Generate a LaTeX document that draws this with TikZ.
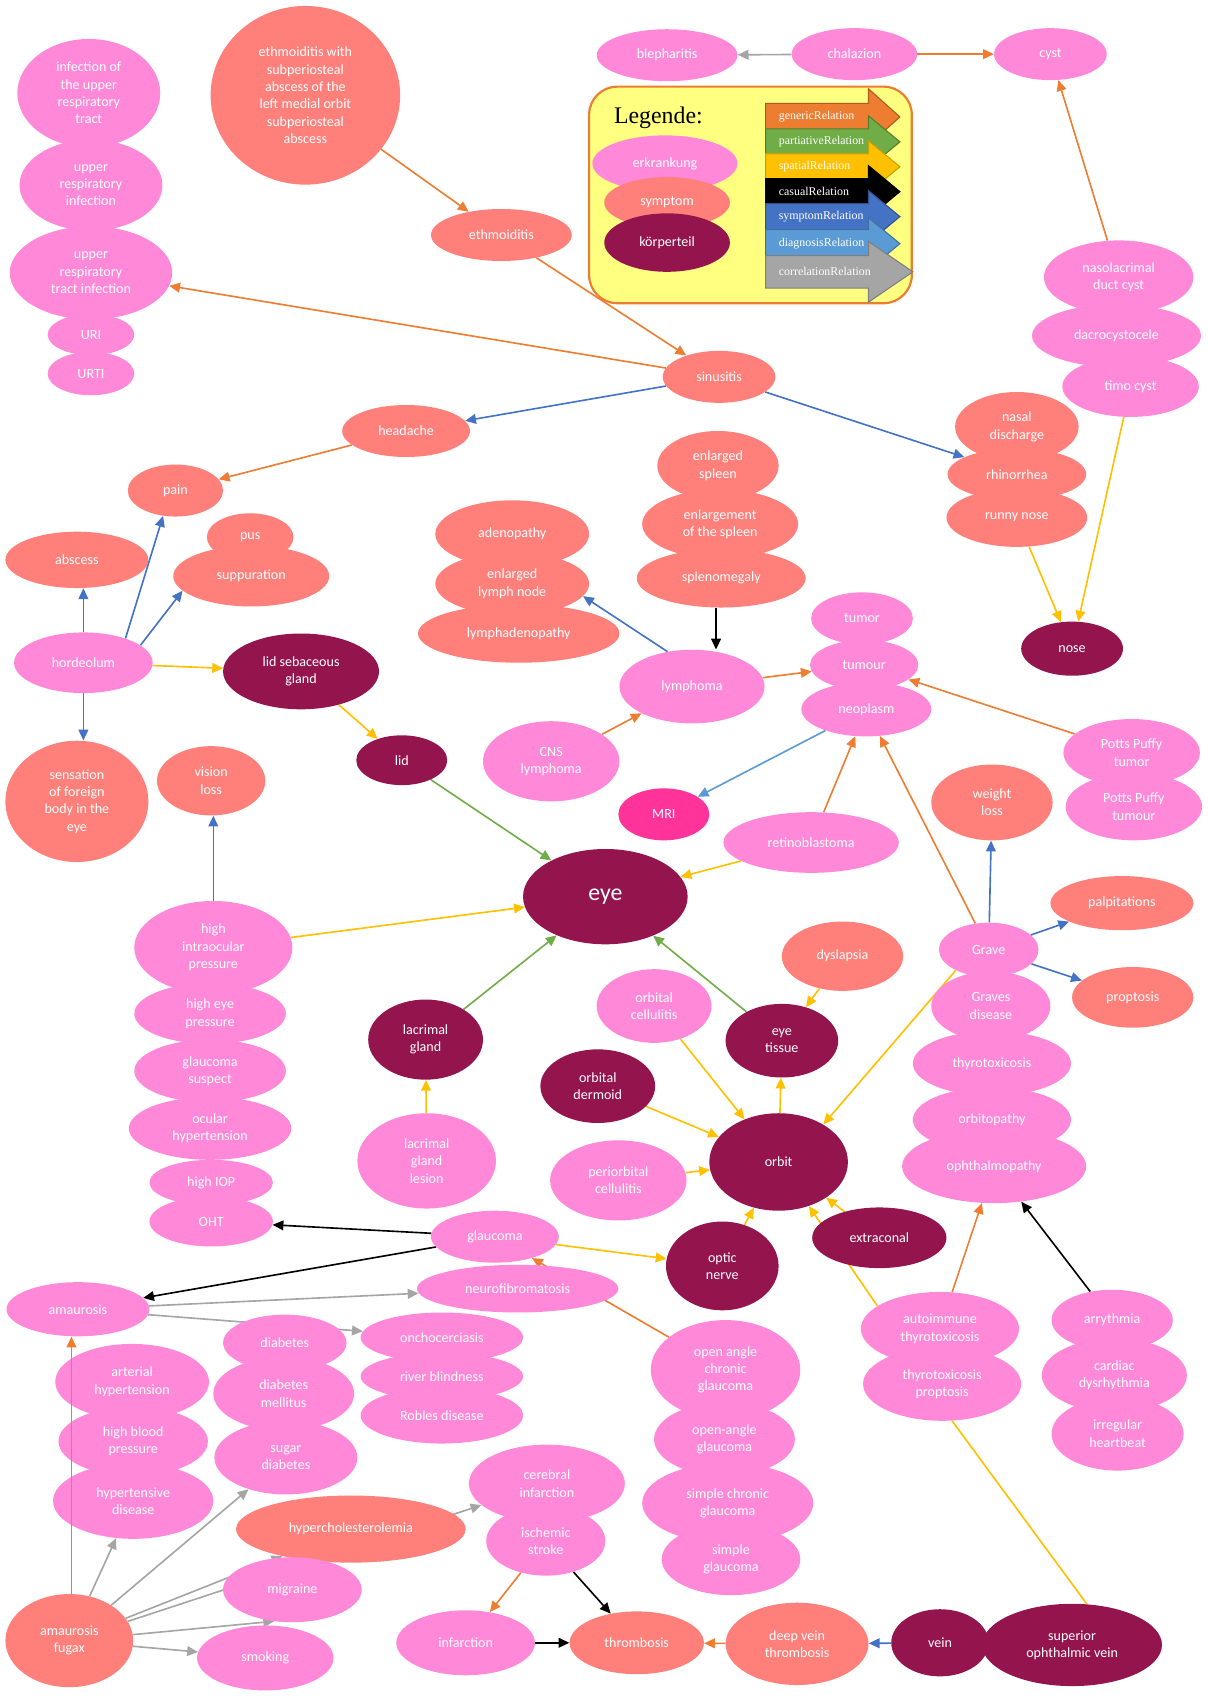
\documentclass[tikz,border=0pt]{standalone}
\usepackage{fontspec}
\setmainfont{Carlito}
\newfontfamily\legfont{Liberation Serif}
\usetikzlibrary{shapes.geometric,arrows.meta}
\pgfdeclarelayer{edges}
\pgfsetlayers{edges,main}

\definecolor{dzcol}{HTML}{FF89D8}
\definecolor{sycol}{HTML}{FF7F7A}
\definecolor{bpcol}{HTML}{94154D}
\definecolor{mricol}{HTML}{FF3399}
\definecolor{genc}{HTML}{ED7D31}
\definecolor{genl}{HTML}{AE5A21}
\definecolor{parc}{HTML}{70AD47}
\definecolor{parl}{HTML}{507E32}
\definecolor{spac}{HTML}{FFC000}
\definecolor{spal}{HTML}{C9A000}
\definecolor{casc}{HTML}{000000}
\definecolor{symc}{HTML}{4472C4}
\definecolor{syml}{HTML}{2F528F}
\definecolor{diac}{HTML}{5B9BD5}
\definecolor{dial}{HTML}{41719C}
\definecolor{corc}{HTML}{A5A5A5}
\definecolor{corl}{HTML}{7F7F7F}
\definecolor{legfill}{HTML}{FFFF80}

% block arrow of the legend: y, body half height, head half height, tip x, fill, outline, name, label
\newcommand\legarr[8]{%
  \path[fill=#5, draw=#6, line width=1pt]
    (707,#1-#2) -- (802,#1-#2) -- (802,#1-#3) -- (#4,#1) -- (802,#1+#3)
    -- (802,#1+#2) -- (707,#1+#2) -- cycle;
  \node[anchor=west, text=white, font=\legfont\fontsize{11}{13}\selectfont, inner sep=0pt]
    (#7) at (719,#1) {#8};}

\begin{document}
\begin{tikzpicture}[x=1pt,y=-1pt,
  ell/.style={ellipse, inner sep=0pt, text=white, align=center,
              font=\fontsize{13}{16}\selectfont},
  dz/.style={ell, fill=dzcol},
  sy/.style={ell, fill=sycol},
  bp/.style={ell, fill=bpcol},
  sz/.style 2 args={minimum width=#1pt, minimum height=#2pt},
  rel/.style={line width=1.5pt, -{Triangle[length=10pt,width=9pt]}},
  gen/.style={rel, draw=genc, fill=genc},
  par/.style={rel, draw=parc, fill=parc},
  spa/.style={rel, draw=spac, fill=spac},
  cas/.style={rel, draw=casc, fill=casc},
  sym/.style={rel, draw=symc, fill=symc},
  dia/.style={rel, draw=diac, fill=diac},
  cor/.style={rel, draw=corc, fill=corc},
]
\useasboundingbox (0,0) rectangle (1115,1568);

% ---------- legend ----------
\path[fill=legfill, draw=genc, line width=2pt, rounded corners=26pt] (544,80) rectangle (842,280);
\node[font=\legfont\fontsize{22}{26}\selectfont, inner sep=0pt] (legtitle) at (608,109) {Legende:};
\node[dz,sz={134}{52}] (legdz) at (614,151) {erkrankung};
\node[sy,sz={116}{47}] (legsy) at (616,187) {symptom};
\node[bp,sz={116}{54}] (legbp) at (616,224) {körperteil};
\legarr{108}{12.5}{26}{831}{genc}{genl}{leggen}{genericRelation}
\legarr{131}{12}{24}{831}{parc}{parl}{legpar}{partiativeRelation}
\legarr{154}{12}{24}{831}{spac}{spal}{legspa}{spatialRelation}
\legarr{177}{12}{24}{831}{casc}{casc}{legcas}{casualRelation}
\legarr{200}{12}{24}{831}{symc}{syml}{legsym}{symptomRelation}
\legarr{225}{13}{24}{831}{diac}{dial}{legdia}{diagnosisRelation}
\legarr{251}{15}{28}{843}{corc}{corl}{legcor}{correlationRelation}

% ---------- upper left ----------
\node[dz,sz={132}{100}] (inftract) at (82,86) {infection of\\the upper\\respiratory\\tract};
\node[dz,sz={132}{84}] (uri1) at (84,171) {upper\\respiratory\\infection};
\node[dz,sz={150}{86}] (urti1) at (84,252) {upper\\respiratory\\tract infection};
\node[dz,sz={80}{38}] (uri) at (84,309) {URI};
\node[dz,sz={80}{40}] (urti) at (84,345) {URTI};

\node[sy,sz={175}{165}] (ethabs) at (282,88) {ethmoiditis with\\subperiosteal\\abscess of the\\left medial orbit\\subperiosteal\\abscess};
\node[sy,sz={130}{48}] (ethm) at (463,217) {ethmoiditis};
\node[sy,sz={104}{48}] (sinus) at (664,348) {sinusitis};
\node[sy,sz={118}{48}] (head) at (375,398) {headache};
\node[sy,sz={88}{48}] (pain) at (162,453) {pain};
\node[sy,sz={80}{44}] (pus) at (231,496) {pus};
\node[sy,sz={144}{56}] (supp) at (232,532) {suppuration};
\node[sy,sz={132}{52}] (absc) at (71,517) {abscess};
\node[dz,sz={128}{56}] (hord) at (77,612) {hordeolum};
\node[sy,sz={132}{112}] (sens) at (71,740) {sensation\\of foreign\\body in the\\eye};
\node[bp,sz={144}{70}] (lsg) at (278,620) {lid sebaceous\\gland};
\node[bp,sz={84}{46}] (lid) at (371,702) {lid};
\node[sy,sz={100}{64}] (visl) at (195,721) {vision\\loss};

% ---------- lymph / tumour ----------
\node[sy,sz={142}{62}] (adeno) at (473,493) {adenopathy};
\node[sy,sz={142}{58}] (enlnode) at (473,539) {enlarged\\lymph node};
\node[sy,sz={186}{54}] (lymphad) at (479,585) {lymphadenopathy};
\node[sy,sz={112}{64}] (enlspl) at (663,430) {enlarged\\spleen};
\node[sy,sz={144}{64}] (enlmt) at (665,484) {enlargement\\of the spleen};
\node[sy,sz={156}{54}] (spleno) at (666,534) {splenomegaly};
\node[dz,sz={134}{68}] (lymph) at (639,634) {lymphoma};
\node[dz,sz={126}{74}] (cns) at (509,703) {CNS\\lymphoma};
\node[dz,sz={94}{48}] (tumor) at (796,571) {tumor};
\node[dz,sz={100}{46}] (tumour) at (798,614) {tumour};
\node[dz,sz={120}{50}] (neopl) at (800,655) {neoplasm};
\node[ell,fill=mricol,sz={84}{48}] (mri) at (613,752) {MRI};
\node[dz,sz={162}{56}] (retino) at (749,778) {retinoblastoma};
\node[bp,sz={152}{88},font=\fontsize{22}{26}\selectfont] (eye) at (559,828) {eye};

% ---------- upper right ----------
\node[dz,sz={130}{48}] (bleph) at (616,51) {blepharitis};
\node[dz,sz={116}{48}] (chal) at (789,50) {chalazion};
\node[dz,sz={104}{48}] (cyst) at (970,50) {cyst};
\node[dz,sz={138}{68}] (nldc) at (1033,256) {nasolacrimal\\duct cyst};
\node[dz,sz={156}{58}] (dacro) at (1031,310) {dacrocystocele};
\node[dz,sz={126}{56}] (timo) at (1044,357) {timo cyst};
\node[sy,sz={114}{64}] (nasd) at (939,394) {nasal\\discharge};
\node[sy,sz={128}{48}] (rhino) at (939,438) {rhinorrhea};
\node[sy,sz={130}{54}] (runny) at (939,478) {runny nose};
\node[bp,sz={94}{50}] (nose) at (990,599) {nose};
\node[dz,sz={126}{62}] (potts1) at (1045,695) {Potts Puffy\\tumor};
\node[dz,sz={126}{62}] (potts2) at (1047,745) {Potts Puffy\\tumour};
\node[sy,sz={112}{70}] (wloss) at (916,741) {weight\\loss};
\node[sy,sz={132}{50}] (palp) at (1036,834) {palpitations};
\node[sy,sz={112}{56}] (propt) at (1046,921) {proptosis};
\node[dz,sz={92}{50}] (grave) at (913,877) {Grave};
\node[dz,sz={110}{64}] (graves) at (915,929) {Graves\\disease};
\node[dz,sz={146}{60}] (thyro) at (916,982) {thyrotoxicosis};
\node[dz,sz={146}{60}] (orbito) at (916,1034) {orbitopathy};
\node[dz,sz={170}{68}] (ophth) at (918,1077) {ophthalmopathy};
\node[dz,sz={112}{56}] (arry) at (1027,1219) {arrythmia};
\node[dz,sz={134}{68}] (cardys) at (1029,1270) {cardiac\\dysrhythmia};
\node[dz,sz={122}{68}] (irreg) at (1032,1324) {irregular\\heartbeat};
\node[dz,sz={146}{68}] (autothy) at (868,1227) {autoimmune\\thyrotoxicosis};
\node[dz,sz={146}{68}] (thyprop) at (870,1278) {thyrotoxicosis\\proptosis};

% ---------- orbit region ----------
\node[sy,sz={112}{64}] (dysl) at (778,883) {dyslapsia};
\node[dz,sz={106}{68}] (orbcel) at (604,929) {orbital\\cellulitis};
\node[bp,sz={104}{68}] (eyet) at (722,961) {eye\\tissue};
\node[bp,sz={106}{68}] (orbder) at (552,1003) {orbital\\dermoid};
\node[bp,sz={128}{90}] (orbit) at (719,1073) {orbit};
\node[dz,sz={126}{74}] (periorb) at (571,1090) {periorbital\\cellulitis};
\node[bp,sz={106}{74}] (lacg) at (393,960) {lacrimal\\gland};
\node[dz,sz={128}{88}] (lacgl) at (394,1072) {lacrimal\\gland\\lesion};
\node[bp,sz={124}{56}] (extra) at (812,1143) {extraconal};
\node[bp,sz={104}{82}] (optic) at (667,1169) {optic\\nerve};
\node[dz,sz={118}{48}] (glauc) at (457,1142) {glaucoma};
\node[dz,sz={186}{44}] (neurof) at (478,1190) {neurofibromatosis};

% ---------- ocular pressure column ----------
\node[dz,sz={146}{86}] (hiop) at (197,875) {high\\intraocular\\pressure};
\node[dz,sz={140}{56}] (hep) at (194,936) {high eye\\pressure};
\node[dz,sz={140}{58}] (gsus) at (194,989) {glaucoma\\suspect};
\node[dz,sz={150}{58}] (ochyp) at (194,1042) {ocular\\hypertension};
\node[dz,sz={114}{42}] (hiopab) at (195,1092) {high IOP};
\node[dz,sz={114}{46}] (oht) at (195,1128) {OHT};

% ---------- lower part ----------
\node[dz,sz={132}{50}] (amau) at (72,1209) {amaurosis};
\node[dz,sz={114}{52}] (diab) at (263,1240) {diabetes};
\node[dz,sz={130}{68}] (diabm) at (262,1287) {diabetes\\mellitus};
\node[dz,sz={132}{68}] (sugar) at (264,1346) {sugar\\diabetes};
\node[dz,sz={150}{46}] (oncho) at (408,1235) {onchocerciasis};
\node[dz,sz={150}{44}] (riverb) at (408,1271) {river blindness};
\node[dz,sz={150}{52}] (robles) at (408,1307) {Robles disease};
\node[dz,sz={142}{70}] (arth) at (122,1276) {arterial\\hypertension};
\node[dz,sz={138}{64}] (hbp) at (123,1331) {high blood\\pressure};
\node[dz,sz={148}{70}] (hypd) at (123,1386) {hypertensive\\disease};
\node[dz,sz={144}{72}] (cereb) at (505,1370) {cerebral\\infarction};
\node[dz,sz={110}{64}] (isch) at (504,1423) {ischemic\\stroke};
\node[sy,sz={212}{62}] (hchol) at (324,1412) {hypercholesterolemia};
\node[dz,sz={128}{60}] (migr) at (270,1468) {migraine};
\node[dz,sz={126}{60}] (smok) at (245,1531) {smoking};
\node[sy,sz={118}{86}] (fugax) at (64,1515) {amaurosis\\fugax};
\node[dz,sz={128}{60}] (infarc) at (430,1517) {infarction};
\node[sy,sz={124}{58}] (thromb) at (588,1517) {thrombosis};
\node[sy,sz={132}{76}] (dvt) at (736,1518) {deep vein\\thrombosis};
\node[bp,sz={90}{62}] (vein) at (868,1517) {vein};
\node[bp,sz={166}{76}] (sov) at (990,1519) {superior\\ophthalmic vein};
\node[dz,sz={138}{92}] (oacg) at (670,1265) {open angle\\chronic\\glaucoma};
\node[dz,sz={130}{68}] (oag) at (669,1329) {open-angle\\glaucoma};
\node[dz,sz={158}{74}] (scg) at (672,1388) {simple chronic\\glaucoma};
\node[dz,sz={128}{66}] (sg) at (675,1440) {simple\\glaucoma};

% ---------- connectors (behind the ellipses) ----------
\begin{pgfonlayer}{edges}
% generic
\draw[gen] (ethabs) -- (ethm);
\draw[gen] (ethm) -- (sinus);
\draw[gen] (sinus) -- (urti1);
\draw[gen] (head) -- (pain);
\draw[gen] (chal) -- (cyst);
\draw[gen] (nldc) -- (cyst);
\draw[gen] (lymph) -- (tumour);
\draw[gen] (cns) -- (lymph);
\draw[gen] (retino) -- (neopl);
\draw[gen] (potts1) -- (tumour);
\draw[gen] (grave) -- (neopl);
\draw[gen] (oacg) -- (glauc);
\draw[gen] (isch) -- (infarc);
\draw[gen] (dvt) -- (thromb);
\draw[gen] (autothy) -- (ophth);
% partitive
\draw[par] (lid) -- (eye);
\draw[par] (lacg) -- (eye);
\draw[par] (eyet) -- (eye);
% spatial
\draw[spa] (hord) -- (lsg);
\draw[spa] (lsg) -- (lid);
\draw[spa] (hiop) -- (eye);
\draw[spa] (retino) -- (eye);
\draw[spa] (dysl) -- (eyet);
\draw[spa] (orbit) -- (eyet);
\draw[spa] (orbcel) -- (orbit);
\draw[spa] (orbder) -- (orbit);
\draw[spa] (grave.212) -- (orbit.40);
\draw[spa] (periorb) -- (orbit);
\draw[spa] (optic) -- (orbit);
\draw[spa] (extra) -- (orbit);
\draw[spa] (autothy.160) -- (orbit);
\draw[spa] (glauc) -- (optic);
\draw[spa] (lacgl) -- (lacg);
\draw[spa] (runny) -- (nose);
\draw[spa] (timo) -- (nose);
\draw[draw=spac, line width=1.5pt] (sov.70) -- (thyprop.-75);
% symptom
\draw[sym] (sinus) -- (head);
\draw[sym] (sinus) -- (rhino);
\draw[sym] (hord.north) -- (hord.north |- absc.south);
\draw[sym] (hord.30) -- (pain.244);
\draw[sym] (hord.17) -- (supp.192);
\draw[sym] (hord.south) -- (hord.south |- sens.north);
\draw[sym] (hiop.north) -- (hiop.north |- visl.south);
\draw[sym] (lymph.125) -- (enlnode.-10);
\draw[sym] (grave) -- (wloss);
\draw[sym] (grave) -- (palp);
\draw[sym] (grave) -- (propt);
\draw[sym] (vein) -- (dvt);
% diagnosis
\draw[dia] (neopl) -- (mri);
% casual
\draw[cas] (spleno.-100) -- (spleno.-100 |- lymph.north);
\draw[cas] (glauc) -- (oht);
\draw[cas] (glauc) -- (amau);
\draw[cas] (isch) -- (thromb);
\draw[cas] (infarc) -- (thromb);
\draw[cas] (arry) -- (ophth);
% correlation
\draw[cor] (chal) -- (bleph);
\draw[cor] (amau) -- (neurof);
\draw[cor] (amau) -- (oncho);
\draw[cor] (fugax) -- (hypd);
\draw[cor] (fugax) -- (sugar);
\draw[cor] (fugax) -- (hchol);
\draw[cor] (fugax) -- (cereb);
\draw[cor] (fugax) -- (migr.240);
\draw[cor] (fugax) -- (smok);
\end{pgfonlayer}

% drawn over the hypertension ellipses
\draw[gen] (fugax.north -| 66,0) -- (amau.south -| 66,0);
\end{tikzpicture}
\end{document}
